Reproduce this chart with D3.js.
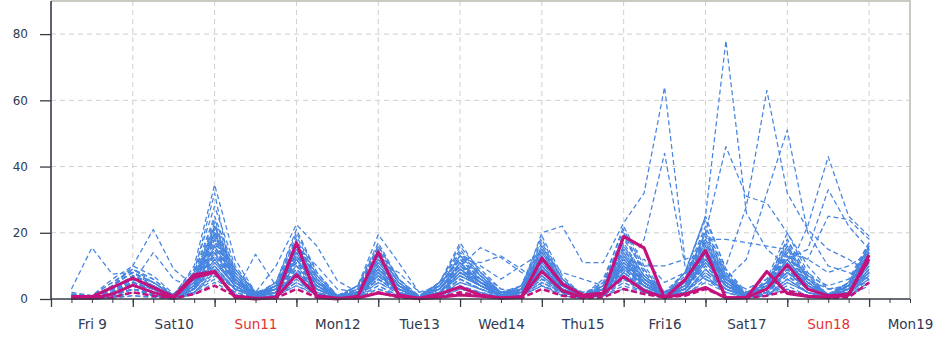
<!DOCTYPE html>
<html>
<head>
<meta charset="utf-8">
<script src="https://cdn.jsdelivr.net/npm/d3@7"></script>
<style>
  html, body { margin: 0; padding: 0; background: #fff; }
  svg { display: block; font-family: "DejaVu Sans", sans-serif; }
</style>
</head>
<body>
<svg id="chart" width="947" height="347"></svg>
<script>
// 6-hourly precipitation (mm), ensemble members, Fri 9 06:00 -> Mon 19 00:00 (40 steps)
const members = [
  [0.5,0.2,2,5, 2,0.3,3,12, 4,0.5,1,9, 2,0.1,0.5,6, 2,0.2,2,8, 4,1,0.5,10, 3,0.5,1,7, 4,1,2,14, 4,0.5,1,6, 2,0.5,2,12],
  [0.2,0,1,3, 1.5,0.2,5,18, 6,1,2,14, 4,0.3,1,10, 3,0.5,1,5, 3,0.5,0.5,7, 2,0.3,2,12, 5,1,2,9, 3,0.5,3,11, 4,1,1,8],
  [1,0.5,4,8, 5,1,2,9, 3,0.2,1,6, 1,0,2,14, 5,0.5,3,11, 6,2,1,4, 1,0.2,3,15, 7,2,5,18, 6,1,2,8, 3,1,4,14],
  [0,0,0.5,2, 1,0.5,6,22, 7,1,3,11, 3,0.2,1,8, 2,0.3,4,13, 8,3,2,15, 5,1,1,10, 4,0.5,2,7, 2,0.3,4,16, 6,1,3,10],
  [0.3,0.5,3,6, 4,0.5,4,15, 5,1.5,2,17, 6,0.5,0.5,5, 1.5,0.2,2,9, 5,1.5,1,12, 4,1,3,18, 9,2,4,12, 4,1,1,5, 2,0.5,4,16],
  [0,0.2,1.5,4, 2,0,2,7, 2,0.5,3,12, 4,0.2,2,12, 4,0.3,1,6, 3,1,0.5,9, 3,0.3,1,6, 3,1,6,20, 7,1,3,13, 5,0.5,1,6],
  [1.5,1,5,9, 6,1,8,25, 9,2,1,8, 3,0.5,1,9, 3,0.5,5,14, 9,3,2,16, 6,1,3,13, 6,1.5,3,10, 4,1,2,9, 3,1,3,13],
  [0.2,0,1,3, 1,0.2,3,11, 4,0.5,4,19, 7,1,1,7, 2,0,1,4, 2,0.5,1,6, 2,0.5,2,9, 4,1,4,16, 6,1,5,18, 7,1,2,9],
  [1,0.3,3,7, 3,0.5,5,16, 5,0.5,1,5, 1.5,0.2,3,16, 6,0.5,3,10, 5,2,2,13, 4,0.5,1,5, 2,1,7,22, 8,1,2,7, 3,1,4,15],
  [0.5,0.2,2,5, 3,0.3,6,20, 7,1,2,13, 5,0.3,0.5,4, 1,0.1,2,7, 4,1,1,8, 3,0.5,3,16, 7,1.5,3,11, 4,1,3,12, 4,0.5,1,5],
  [0,0,0.5,2, 1,0,3,10, 3,0.3,2,10, 3,0.5,2,11, 4,0.5,4,12, 7,2,3,18, 6,1,1,8, 3,0.5,4,15, 5,0.5,1,4, 1,0.3,3,11],
  [2,1,6,10, 7,1.5,9,28, 10,2,3,15, 5,1,2,13, 4,0.5,2,8, 4,1,1,5, 2,0.5,4,20, 8,1,2,8, 3,0.5,4,14, 5,1.5,5,17],
  [0.3,0.3,1.5,4, 2,0.3,4,14, 5,0.5,2,7, 2,0,0.5,3, 1,0.5,5,16, 8,2,2,11, 4,0.5,3,11, 5,1,5,19, 7,1.5,3,10, 4,1,2,7],
  [0.5,0.5,3,6, 3,0.2,2,8, 3,1,5,20, 8,1,3,15, 5,0,0.5,3, 2,0.5,3,14, 5,1,2,7, 3,0.5,3,13, 5,0.5,1,6, 2,0.5,3,12],
  [0,0.2,1,3, 1.5,0.5,6,19, 6,1,3,12, 4,0.5,1,9, 3,0.3,3,11, 5,1,1,9, 3,0.5,3,14, 5,1,1,6, 2,0.5,5,17, 6,1,2,10],
  [1,0.5,4,8, 5,1,4,13, 4,0.3,1,4, 1,0,1,6, 2,0.2,3,9, 6,2,4,17, 6,1,2,9, 4,1,8,24, 9,2,3,9, 3,1,4,14],
  [0.5,0.3,2,5, 3,0.5,7,22, 8,1.5,4,16, 6,0.5,2,12, 4,0.2,1.5,6, 3,0.5,1,7, 2,0.3,4,17, 7,2,3,14, 5,0.5,1,5, 2,0.3,2,8],
  [0,0,0.3,1, 0.5,0,2,6, 2,0.2,2,9, 3,0.2,1,8, 2,0.5,4,13, 7,2,2,10, 3,0.5,1,4, 2,0.5,2,9, 3,1,4,12, 4,1,5,16],
  [1,0.5,3,7, 4,0.5,5,17, 6,1,3,14, 5,1,4,17, 6,0.3,1.5,5, 3,1,2,12, 4,0.5,3,12, 5,1,5,17, 6,1.5,4,15, 5,1,2,6],
  [0.3,0.2,2,4, 2,0.2,4,12, 4,0.5,1,6, 2,0.3,1,5, 2,0.5,3,10, 5,1,3,15, 5,1,5,22, 10,2,3,12, 4,0.5,2,8, 3,1,4,13],
  [1.5,1,5,9, 6,1,8,24, 9,1.5,5,18, 7,0.5,2,10, 3,0.5,5,15, 7,2,1,6, 2,0.3,2,10, 4,1,6,21, 8,1,3,11, 4,0.5,3,11],
  [0,0,0.5,2, 1,0.2,3,9, 3,0.5,3,11, 4,0.5,3,14, 5,0.5,2,7, 4,1.5,4,19, 7,1,1,6, 2,0.5,2,8, 3,0.5,6,20, 8,1,2,9],
  [0.5,0.3,2.5,6, 4,0.5,5,15, 5,1,2,8, 3,0.3,1.5,7, 3,0.5,4,12, 6,1,2,8, 3,0.5,3,15, 6,1,4,16, 6,1,2,7, 2,0.5,5,15],
  [0.5,0.5,2,5, 3,0.5,7,21, 7,1,5,21, 8,1,2,11, 4,0.5,3,9, 4,1,3,13, 5,1,2,8, 3,0.5,3,10, 4,1,4,13, 5,1,3,12],
  [0.2,0,1,3, 1,0.2,3,10, 3,0.5,4,13, 5,0.5,1,6, 2,0.2,1,4, 2,0.5,3,11, 4,1,5,19, 8,2,5,18, 7,1,2,9, 3,0.5,2,7],
  [1,0.5,4,8, 5,1,6,18, 6,0.5,2,7, 2,0.5,4,16, 6,1,5,14, 7,1.5,1,5, 2,0.3,3,11, 5,1,3,13, 5,1,5,16, 6,1.5,4,14],
  [0.3,0.3,1.5,4, 2,0.3,4,13, 5,1,4,15, 5,0.3,0.5,4, 1,0.2,2,8, 4,1,4,16, 6,1,3,13, 6,2,8,25, 9,1,1.5,6, 2,0.5,3,10],
  [0.5,0.2,3,6, 3,0.5,5,16, 6,1,3,10, 4,0.5,3,13, 5,0.5,3,11, 5,1,2,10, 3,0.5,2,7, 3,0.5,3,11, 4,1,3,10, 4,1,5,16],
  [0,0,0.5,2, 1,0.2,2,8, 3,1,4,17, 6,0.5,2,9, 3,0.3,2,6, 3,1,3,14, 5,1,4,16, 7,1,2,9, 4,1,5,18, 7,1,2,8],
  [1,0.5,3,7, 4,0.5,6,20, 7,1,3,12, 4,0.5,1.5,8, 3,0.5,5,17, 8,2,1,7, 2,0.5,2,9, 4,1,6,20, 7,1,2,8, 3,0.5,4,13],
  [0.5,0.3,2,5, 3,0.5,3,11, 4,0.5,1,5, 1.5,0.3,3,12, 4,0.5,3,9, 5,1,3,12, 4,1,4,14, 6,1,4,14, 5,1,3,12, 4,1,3,11],
  [0.2,0.2,1,3, 2,0.3,4,14, 5,1,4,16, 6,0.5,1,6, 2,0.3,4,12, 6,1,2,9, 3,1,6,21, 9,1.5,2,7, 3,0.5,4,14, 5,1,4,15],
  [1.5,0.5,4,9, 5,1,6,19, 7,1,3,13, 5,0.5,4,15, 6,0.5,2,7, 4,1,4,15, 6,1,3,10, 4,1,5,17, 6,1,3,11, 4,1,2,9],
  [0.3,0.3,2,4, 2,0.3,4,12, 4,0.5,3,9, 3,0.5,3,10, 4,0.5,3,10, 5,1,3,11, 4,0.5,3,12, 5,1,4,15, 6,1,3,9, 3,0.5,3,12],
  [0.5,0.5,3,6, 4,0.5,7,23, 8,1.5,4,14, 5,0.5,2,7, 3,0.5,4,13, 6,1,3,13, 5,0.5,2,8, 4,1,3,12, 4,1,5,15, 6,1,2,6],
  [0,0,0.3,1, 0.5,0,1.5,5, 1.5,0.2,1,4, 1.5,0,0.5,3, 1,0,1,3, 1.5,0.5,1,4, 1.5,0.3,1,3, 1.5,0.5,1.5,5, 2,0.3,1,3, 1,0.3,1,4],
  [3,15.5,7.5,8, 4,1,3,10, 3,0.5,1,8, 2,0.3,1,6, 2,0.3,2,8, 5,2,3,20, 22,11,11,23, 32,64,12,6, 3,1,3,8, 4,1,2,9],
  [1,0.5,4,10, 21,9,4,14, 5,1,2,12, 4,0.5,1,7, 3,0.5,3,10, 6,2,2,9, 4,1,3,8, 18,44,10,6, 3,1,3,10, 5,1,3,12],
  [0.5,0.3,2,5, 14,6,3,16, 6,1,3,10, 3,0.5,1,8, 3,0.5,2,8, 4,1,2,10, 4,1,2,11, 5,1,8,25, 78,26,15,10, 8,3,4,12],
  [0.3,0.2,2,6, 4,1,10,34.5, 12,2,3,14, 5,1,2,10, 4,0.5,3,9, 5,1,2,11, 4,1,3,12, 6,2,6,20, 46,31,29,20, 10,3,4,11],
  [0.5,0.3,3,7, 5,1,8,32, 2,13.5,4,12, 4,0.5,1,9, 3,0.5,2,7, 4,1,2,9, 3,0.5,2,10, 5,1,3,12, 10,28,63,32, 21,15,12,8],
  [0.3,0.2,1,4, 2,0.5,4,20, 5,2,10,22.5, 16,5.5,2,9, 3,0.5,2,8, 5,1,2,10, 3,1,2,11, 4,1,4,14, 6,12,32,51, 20,10,8,6],
  [0.2,0,1,3, 2,0.3,5,16, 6,1,3,15, 5,1,4,19.5, 11,2,3,10, 5,1,2,12, 4,1,3,13, 5,1,3,15, 5,1,3,8, 22,43,25,19],
  [0.5,0.3,2,4, 3,0.5,4,18, 5,1,2,11, 4,0.5,2,10, 4,1,5,10, 15.5,12.5,8,6, 4,1,3,9, 5,1,3,12, 4,2,5,12, 15,33,22,15],
  [0.3,0.3,1,5, 3,0.5,3,22, 8,1,3,17, 7,1,2,12, 4,1,4,12, 11,13,9,4, 2,1,2,10, 4,1,3,11, 5,2,4,14, 12,25,24,18],
  [0.3,0.2,1,4, 2,0.5,3,12, 4,1,2,8, 3,0.5,1,7, 2,0.5,2,9, 4,1,2,8, 4,2,4,12, 10,10,12,14, 6,2,4,10, 6,3,3,8],
  [0.5,0.3,2,5, 3,0.5,4,14, 5,1,2,13, 4,1,2,9, 3,1,3,11, 5,2,3,13, 5,2,3,15, 6,2,8,18, 18,17,16,15, 12,8,10,14],
  [0.2,0.2,2,6, 3,0.5,5,20, 9,2,4,16, 10,3,2,11, 8,2,4,13, 10,6,10,14, 8,6,4,9, 12,5,8,17, 6,3,6,13, 7,4,6,17]
];

// highlighted runs (thick magenta)
const mainRun = [0.7,0.7,3.5,6.3, 3.5,0.7,7.3,8.3, 0.5,0,0.5,17, 0.5,0,0.8,14.2, 1.2,0.2,1.5,3.6, 1.2,0.3,0.7,12.3, 4.5,1.2,1.8,18.9, 15.4,0.2,5.8,14.6, 0.2,0.4,8.3,1.7, 0.8,0.5,1.2,13.3];
const secondRun = [0.3,0.2,1.5,4.2, 2,0.3,6.5,8, 0.8,0.2,0.3,7.3, 1,0.2,0.3,1.8, 0.8,0.1,0.5,1.2, 0.8,0.3,0.5,8.3, 2.5,0.5,1.5,6.8, 2.5,0.5,1.5,3.5, 0.3,0.5,3,10.3, 3,1,1.5,12];
const medianRun = [0.2,0.2,0.5,2, 1,0.2,1.5,4, 1,0.2,0.3,3, 0.5,0.1,0.2,2, 0.5,0.1,0.5,2, 1,0.3,0.3,3, 1,0.3,0.5,3, 1.5,0.5,1,3, 0.5,0.3,1,2.5, 1,0.3,0.5,5];

const yTicks = [0, 20, 40, 60, 80];
const dayLabels = ["Fri 9","Sat10","Sun11","Mon12","Tue13","Wed14","Thu15","Fri16","Sat17","Sun18","Mon19"];

// time frame
const t0 = new Date(Date.UTC(2024, 1, 9, 0));
const t1 = new Date(Date.UTC(2024, 1, 19, 12));
const stepTimes = d3.utcHour.every(6).range(new Date(Date.UTC(2024, 1, 9, 6)), new Date(Date.UTC(2024, 1, 19, 1)));
const midnights = d3.utcDay.range(t0, new Date(Date.UTC(2024, 1, 19, 1)));
const noons = midnights.map(d => d3.utcHour.offset(d, 12));
const sixHours = d3.utcHour.every(6).range(t0, new Date(Date.UTC(2024, 1, 19, 13)));

const plot = { left: 51, right: 910, top: 1, bottom: 299 };
const svg = d3.select("#chart");
const x = d3.scaleUtc().domain([t0, t1]).range([plot.left, plot.right]);
const y = d3.scaleLinear().domain([0, 90]).range([plot.bottom, plot.top]);

// grid
const grid = svg.append("g").attr("stroke", "#cfcfcf").attr("stroke-width", 1).attr("stroke-dasharray", "5,4");
grid.selectAll("line.v").data(midnights.slice(1)).join("line").attr("class", "v")
  .attr("x1", d => x(d)).attr("x2", d => x(d)).attr("y1", plot.top).attr("y2", plot.bottom);
grid.selectAll("line.h").data(yTicks.slice(1)).join("line").attr("class", "h")
  .attr("x1", plot.left).attr("x2", plot.right).attr("y1", d => y(d)).attr("y2", d => y(d));

// ensemble members
const line = d3.line().x((d, i) => x(stepTimes[i])).y(d => y(d));
svg.append("g").selectAll("path").data(members).join("path")
  .attr("d", line)
  .attr("fill", "none")
  .attr("stroke", "#4785e0")
  .attr("stroke-width", 1.25)
  .attr("stroke-dasharray", "5,3")
  .attr("stroke-linejoin", "round");

// highlighted runs
const hl = svg.append("g").attr("fill", "none").attr("stroke", "#c4127c").attr("stroke-linejoin", "round");
hl.append("path").attr("d", line(medianRun)).attr("stroke-width", 2.6).attr("stroke-dasharray", "6,3");
hl.append("path").attr("d", line(secondRun)).attr("stroke-width", 3);
hl.append("path").attr("d", line(mainRun)).attr("stroke-width", 3.2);

// frame (top/right)
svg.append("path")
  .attr("d", `M${plot.left},${plot.top}H${plot.right}V${plot.bottom}`)
  .attr("fill", "none").attr("stroke", "#b9b9ae").attr("stroke-width", 1.5);

// y axis
const yAxis = svg.append("g").attr("transform", `translate(${plot.left},0)`)
  .call(d3.axisLeft(y).tickValues(yTicks).tickSize(11).tickPadding(12));
yAxis.select(".domain").attr("d", `M0,${plot.top}V${plot.bottom}`).attr("stroke", "#363b46").attr("stroke-width", 1.6);
yAxis.selectAll(".tick line").attr("stroke", "#363b46").attr("stroke-width", 1.3);
yAxis.selectAll(".tick text").attr("fill", "#2f3a52").style("font-size", "12px").style("font-family", "DejaVu Sans");

// x axis: 6-hourly minor ticks, daily major ticks, day labels at noon
const xMinor = svg.append("g").attr("transform", `translate(0,${plot.bottom})`)
  .call(d3.axisBottom(x).tickValues(sixHours).tickSize(4).tickFormat(""));
xMinor.select(".domain").attr("d", `M${plot.left},0H${plot.right}`).attr("stroke", "#363b46").attr("stroke-width", 1.6);
xMinor.selectAll(".tick line").attr("stroke", "#363b46");

const xMajor = svg.append("g").attr("transform", `translate(0,${plot.bottom})`)
  .call(d3.axisBottom(x).tickValues(midnights).tickSize(8).tickFormat(""));
xMajor.select(".domain").remove();
xMajor.selectAll(".tick line").attr("stroke", "#363b46").attr("stroke-width", 1.3);

const xLab = svg.append("g").attr("transform", `translate(0,${plot.bottom})`)
  .call(d3.axisBottom(x).tickValues(noons).tickSize(0).tickPadding(20)
    .tickFormat((d, i) => dayLabels[i]));
xLab.select(".domain").remove();
xLab.selectAll(".tick text")
  .style("font-size", "13.5px").style("font-family", "DejaVu Sans")
  .attr("fill", d => d.getUTCDay() === 0 ? "#e5332e" : "#2f3a52");
</script>
</body>
</html>
